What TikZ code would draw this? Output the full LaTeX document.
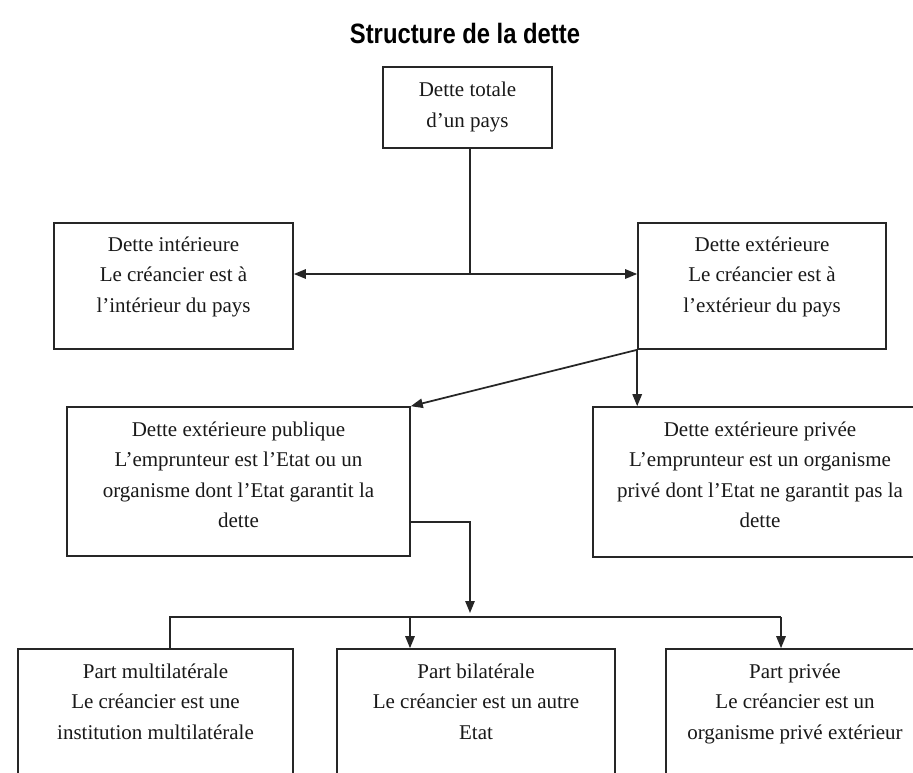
\documentclass[tikz,border=0pt]{standalone}
\usepackage{fontspec}
\setmainfont{Liberation Serif}
\newfontfamily\titlefont[FakeStretch=0.85]{Liberation Sans}
\usetikzlibrary{arrows.meta,fit}
\begin{document}
\begin{tikzpicture}[x=0.75pt,y=-0.75pt,
  box/.style={draw=black!85, line width=1.2pt, inner sep=0pt, rectangle},
  txt/.style={anchor=north, inner sep=0pt, align=center, text=black!90,
    font=\fontsize{15.75pt}{22.9pt}\selectfont},
  conn/.style={draw=black!85, line width=1.3pt},
  arr/.style={conn, -{Triangle[length=9pt,width=7pt]}},
  darr/.style={conn, {Triangle[length=9pt,width=7pt]}-{Triangle[length=9pt,width=7pt]}},
]
\useasboundingbox (0,0) rectangle (913,772);
\clip (0,0) rectangle (913,772);
\fill[white] (0,0) rectangle (913,772);

% title
\node[anchor=base, inner sep=0pt, text=black,
  font=\titlefont\fontsize{21pt}{25pt}\selectfont\bfseries] (title) at (465,43) {Structure de la dette};

% boxes
\node[box, fit={(383,67) (552,148)}] (tot) {};
\node[txt] (tott) at (467.5,82) {Dette totale\\d’un pays};

\node[box, fit={(54,223) (293,349)}] (int) {};
\node[txt] (intt) at (173.5,236.4) {Dette intérieure\\Le créancier est à\\l’intérieur du pays};

\node[box, fit={(638,223) (886,349)}] (ext) {};
\node[txt] (extt) at (762,236.4) {Dette extérieure\\Le créancier est à\\l’extérieur du pays};

\node[box, fit={(67,407) (410,556)}] (pub) {};
\node[txt] (pubt) at (238.5,421.5) {Dette extérieure publique\\L’emprunteur est l’Etat ou un\\organisme dont l’Etat garantit la\\dette};

\node[box, fit={(593,407) (927,557)}] (priv) {};
\node[txt] (privt) at (760,421.5) {Dette extérieure privée\\L’emprunteur est un organisme\\privé dont l’Etat ne garantit pas la\\dette};

\node[box, fit={(18,649) (293,800)}] (mul) {};
\node[txt] (mult) at (155.5,663.5) {Part multilatérale\\Le créancier est une\\institution multilatérale};

\node[box, fit={(337,649) (615,800)}] (bil) {};
\node[txt] (bilt) at (476,663.5) {Part bilatérale\\Le créancier est un autre\\Etat};

\node[box, fit={(666,649) (924,800)}] (pp) {};
\node[txt] (ppt) at (795,663.5) {Part privée\\Le créancier est un\\organisme privé extérieur};

% connectors
\coordinate (j1) at (470,274);
\draw[conn] (tot.south -| j1) -- (j1);
\draw[darr] (int.east |- j1) -- (ext.west |- j1);

\draw[arr] (ext.south west) -- (pub.north east);
\draw[arr] (ext.south west) -- (ext.south west |- priv.north);

\coordinate (j2) at (470,522);
\coordinate (j3) at (470,613);
\draw[arr] (pub.east |- j2) -- (j2) -- (j3);

\coordinate (bl) at (170,617);
\coordinate (bm) at (410,617);
\coordinate (br) at (781,617);
\draw[conn] (bl |- mul.north) -- (bl) -- (br);
\draw[arr] (bm) -- (bm |- bil.north);
\draw[arr] (br) -- (br |- pp.north);
\end{tikzpicture}
\end{document}
